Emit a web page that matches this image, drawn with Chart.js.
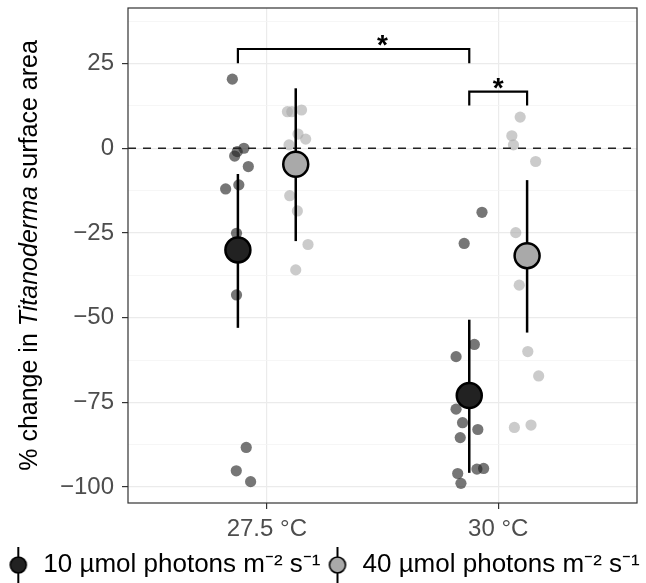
<!DOCTYPE html>
<html>
<head>
<meta charset="utf-8">
<script src="https://cdn.jsdelivr.net/npm/chart.js@4.4.1/dist/chart.umd.min.js"></script>
<style>
  html, body { margin: 0; padding: 0; background: #fff; }
  #wrap { width: 646px; height: 583px; }
</style>
</head>
<body>
<div id="wrap"><canvas id="chart"></canvas></div>
<script>
const categories = ['27.5 °C', '30 °C'];
const seriesNames = ['10 µmol photons m⁻² s⁻¹', '40 µmol photons m⁻² s⁻¹'];

// replicate values (% change), plus their horizontal jitter
const low275 = [20.4, 0.0, -1.0, -2.3, -5.4, -10.8, -12.0, -25.1, -43.3, -88.3, -95.2, -98.4];
const low275Jitter = [-0.024, 0.026, -0.003, -0.014, 0.045, 0.004, -0.053, -0.006, -0.006, 0.036, -0.007, 0.055];
const high275 = [10.8, 10.8, 11.3, 4.2, 2.7, 1.0, -14.0, -18.5, -28.4, -35.9];
const high275Jitter = [-0.036, -0.017, 0.025, 0.010, 0.043, -0.029, -0.026, 0.007, 0.053, 0.0];
const low30 = [-18.9, -28.1, -57.9, -61.5, -77.0, -81.0, -83.0, -85.4, -94.7, -94.5, -96.0, -98.9];
const low30Jitter = [0.055, -0.022, 0.022, -0.057, -0.057, -0.029, 0.037, -0.039, 0.033, 0.062, -0.050, -0.036];
const high30 = [9.2, 3.7, 1.0, -3.9, -24.9, -40.4, -60.0, -67.2, -82.4, -81.7];
const high30Jitter = [-0.030, -0.066, -0.059, 0.037, -0.049, -0.034, 0.003, 0.050, -0.055, 0.017];

// means and error bar limits, one per temperature
const lowMeans = [-30.0, -73.0];
const lowLower = [-53.0, -95.8];
const lowUpper = [-7.6, -50.6];
const highMeans = [-4.7, -31.7];
const highLower = [-27.4, -54.4];
const highUpper = [17.7, -9.4];

// significance brackets: [category, series] -> [category, series]
const sigFrom = [[0, 0], [1, 0]];
const sigTo = [[1, 0], [1, 1]];
const sigTop = [29.3, 16.7];
const sigTip = [25.1, 12.6];
const sigLabels = ['*', '*'];
const sigLabelX = [1.5, 2.0];

const yTicks = [-100, -75, -50, -25, 0, 25];

const dodge = 0.125;
const xMin = 0.4, xMax = 2.6;
const yMin = -104.7, yMax = 41.4;
const FONT = "'Liberation Sans', Arial, sans-serif";
const darkFill = '#222222';
const lightFill = '#a9a9a9';

function xPos(cat, series) {
    return cat + 1 + (series === 0 ? -dodge : dodge);
}

function groupPoints(cat, series, values, jitter) {
    const cx = xPos(cat, series);
    return values.map((v, i) => ({ x: cx + jitter[i], y: v }));
}

function keyImage(fill) {
    const c = document.createElement('canvas');
    c.width = 20; c.height = 36;
    const g = c.getContext('2d');
    g.strokeStyle = '#000';
    g.lineWidth = 2;
    g.beginPath(); g.moveTo(10, 0); g.lineTo(10, 36); g.stroke();
    g.beginPath(); g.arc(10, 18, 8, 0, Math.PI * 2);
    g.fillStyle = fill; g.fill();
    g.lineWidth = 1.6; g.stroke();
    return c;
}
const keyImages = [keyImage(darkFill), keyImage(lightFill)];

const datasets = [];

datasets.push({
    data: groupPoints(0, 0, low275, low275Jitter).concat(groupPoints(1, 0, low30, low30Jitter)),
    backgroundColor: 'rgba(34,34,34,0.62)',
    borderWidth: 0,
    pointRadius: 5.6,
    order: 50
});
datasets.push({
    data: groupPoints(0, 1, high275, high275Jitter).concat(groupPoints(1, 1, high30, high30Jitter)),
    backgroundColor: 'rgba(169,169,169,0.6)',
    borderWidth: 0,
    pointRadius: 5.6,
    order: 50
});

// dashed zero line
datasets.push({
    data: [{ x: xMin, y: 0 }, { x: xMax, y: 0 }],
    showLine: true,
    borderColor: '#222',
    borderWidth: 1.5,
    borderDash: [8, 7],
    pointRadius: 0,
    order: 40
});

// error bars
[[lowLower, lowUpper, 0], [highLower, highUpper, 1]].forEach(([lo, hi, s]) => {
    categories.forEach((c, i) => {
        datasets.push({
            data: [{ x: xPos(i, s), y: lo[i] }, { x: xPos(i, s), y: hi[i] }],
            showLine: true,
            borderColor: '#000',
            borderWidth: 2.5,
            pointRadius: 0,
            order: 30
        });
    });
});

// means
datasets.push({
    label: seriesNames[0],
    data: lowMeans.map((v, i) => ({ x: xPos(i, 0), y: v })),
    backgroundColor: darkFill,
    borderColor: '#000',
    borderWidth: 2.5,
    pointRadius: 12.5,
    order: 20
});
datasets.push({
    label: seriesNames[1],
    data: highMeans.map((v, i) => ({ x: xPos(i, 1), y: v })),
    backgroundColor: lightFill,
    borderColor: '#000',
    borderWidth: 2.5,
    pointRadius: 12.5,
    order: 20
});

// significance brackets
sigFrom.forEach((f, i) => {
    const x1 = xPos(f[0], f[1]);
    const x2 = xPos(sigTo[i][0], sigTo[i][1]);
    datasets.push({
        data: [{ x: x1, y: sigTip[i] }, { x: x1, y: sigTop[i] }, { x: x2, y: sigTop[i] }, { x: x2, y: sigTip[i] }],
        showLine: true,
        borderColor: '#000',
        borderWidth: 2.2,
        pointRadius: 0,
        order: 10
    });
});

const panelExtras = {
    id: 'panelExtras',
    afterInit(chart) {
        // legend sits a little lower than Chart.js puts it
        const fit = chart.legend.fit;
        chart.legend.fit = function () {
            fit.call(this);
            this.height -= 5;
        };
    },
    afterDraw(chart) {
        const { ctx, chartArea: a, scales } = chart;
        ctx.save();
        // panel border
        ctx.strokeStyle = '#333';
        ctx.lineWidth = 1.2;
        ctx.strokeRect(a.left, a.top, a.right - a.left, a.bottom - a.top);

        // stars over brackets
        ctx.fillStyle = '#000';
        ctx.font = 'bold 28px ' + FONT;
        ctx.textAlign = 'center';
        ctx.textBaseline = 'alphabetic';
        sigLabels.forEach((lab, i) => {
            const px = scales.x.getPixelForValue(sigLabelX[i]);
            const py = scales.y.getPixelForValue(sigTop[i]) - 8;
            const m = ctx.measureText(lab);
            const base = py - (m.actualBoundingBoxDescent - m.actualBoundingBoxAscent) / 2;
            ctx.fillText(lab, px, base);
        });

        // y axis title with italic genus name
        const parts = [
            ['% change in ', '25px ' + FONT],
            ['Titanoderma', 'italic 25px ' + FONT],
            [' surface area', '25px ' + FONT]
        ];
        let total = 0;
        parts.forEach(p => { ctx.font = p[1]; total += ctx.measureText(p[0]).width; });
        ctx.translate(30, (a.top + a.bottom) / 2);
        ctx.rotate(-Math.PI / 2);
        ctx.textAlign = 'left';
        ctx.textBaseline = 'middle';
        let x = -total / 2;
        parts.forEach(p => {
            ctx.font = p[1];
            ctx.fillText(p[0], x, 0);
            x += ctx.measureText(p[0]).width;
        });
        ctx.restore();
    }
};

new Chart(document.getElementById('chart'), {
    type: 'scatter',
    data: { datasets },
    plugins: [panelExtras],
    options: {
        responsive: true,
        maintainAspectRatio: false,
        animation: false,
        devicePixelRatio: 1,
        layout: { autoPadding: false, padding: { left: 0, right: 0, top: 8, bottom: 0 } },
        plugins: {
            tooltip: { enabled: false },
            legend: {
                position: 'bottom',
                labels: {
                    usePointStyle: true,
                    pointStyleWidth: 24,
                    padding: 5,
                    color: '#000',
                    font: { size: 26, family: FONT },
                    generateLabels(chart) {
                        return seriesNames.map((name, i) => ({
                            text: name,
                            pointStyle: keyImages[i],
                            fillStyle: i === 0 ? darkFill : lightFill,
                            strokeStyle: '#000',
                            lineWidth: 0,
                            hidden: false,
                            fontColor: '#000'
                        }));
                    }
                }
            }
        },
        scales: {
            x: {
                type: 'linear',
                min: xMin,
                max: xMax,
                afterBuildTicks(scale) {
                    scale.ticks = categories.map((c, i) => ({ value: i + 1 }));
                },
                afterFit(scale) {
                    scale.height = 583 - 503 - 36;
                    scale.paddingLeft = 0;
                    scale.paddingRight = 0;
                },
                ticks: {
                    autoSkip: false,
                    maxRotation: 0,
                    padding: 6,
                    color: '#4d4d4d',
                    font: { size: 24, family: FONT },
                    callback: (v) => categories[Math.round(v) - 1] || ''
                },
                grid: {
                    color: '#ebebeb',
                    lineWidth: 1.2,
                    tickColor: '#333',
                    tickLength: 6,
                    tickWidth: 1.2
                },
                border: { display: false }
            },
            y: {
                min: yMin,
                max: yMax,
                afterBuildTicks(scale) {
                    const t = [];
                    for (let v = yTicks[0]; v <= yMax; v += 12.5) t.push({ value: v });
                    scale.ticks = t;
                },
                afterFit(scale) {
                    scale.width = 128;
                    scale.paddingTop = 0;
                    scale.paddingBottom = 0;
                },
                ticks: {
                    autoSkip: false,
                    padding: 8,
                    color: '#4d4d4d',
                    font: { size: 24, family: FONT },
                    callback: (v) => yTicks.includes(v) ? (v < 0 ? '\u2212' + Math.abs(v) : String(v)) : ''
                },
                grid: {
                    color: (ctx) => yTicks.includes(ctx.tick && ctx.tick.value) ? '#ebebeb' : '#f4f4f4',
                    lineWidth: (ctx) => yTicks.includes(ctx.tick && ctx.tick.value) ? 1.2 : 0.8,
                    tickColor: (ctx) => yTicks.includes(ctx.tick && ctx.tick.value) ? '#333' : 'rgba(0,0,0,0)',
                    tickLength: 6,
                    tickWidth: 1.2
                },
                border: { display: false }
            },
            // empty strip on the right so the panel stops short of the edge
            yRight: {
                position: 'right',
                display: true,
                ticks: { display: false },
                grid: { display: false },
                border: { display: false },
                afterFit(scale) {
                    scale.width = 9;
                    scale.paddingTop = 0;
                    scale.paddingBottom = 0;
                }
            }
        }
    }
});
</script>
</body>
</html>
